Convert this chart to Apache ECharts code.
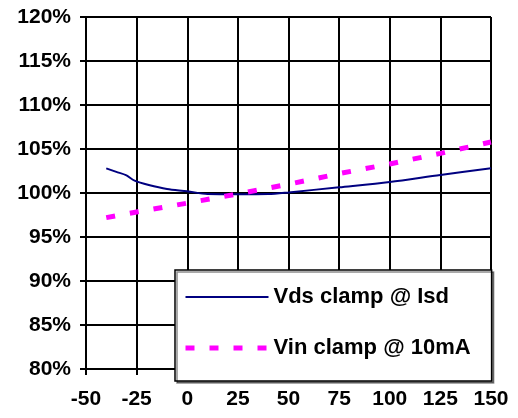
<!DOCTYPE html>
<html>
<head>
<meta charset="utf-8">
<script src="https://cdn.jsdelivr.net/npm/echarts@6/dist/echarts.min.js"></script>
<style>html,body{margin:0;padding:0;background:#fff;}#c{width:518px;height:418px;}</style>
</head>
<body>
<div id="c"></div>
<script>
var vdsName = 'Vds clamp @ Isd';
var vinName = 'Vin clamp @ 10mA';
var vdsTemp = [-40, -35, -30, -26, -19, -10, 0, 10, 25, 40, 50, 75, 100, 125, 150];
var vdsVal  = [102.8, 102.4, 102.0, 101.4, 100.9, 100.45, 100.2, 99.88, 99.85, 99.88, 100.07, 100.65, 101.25, 102.05, 102.8];
var vinTemp = [-40, -25, 0, 25, 50, 75, 100, 125, 150];
var vinVal  = [97.2, 97.85, 98.85, 99.9, 101.0, 102.2, 103.3, 104.5, 105.8];
var xMin = -50, xMax = 150, xStep = 25;
var yMin = 80, yMax = 120, yStep = 5;

function pairs(xs, ys) { return xs.map(function (x, i) { return [x, ys[i]]; }); }

var font = '"Liberation Sans", Arial, sans-serif';
var chart = echarts.init(document.getElementById('c'), null, { renderer: 'canvas' });
chart.setOption({
  animation: false,
  backgroundColor: '#fff',
  grid: { left: 86, top: 17, right: 27, bottom: 49, containLabel: false },
  xAxis: {
    type: 'value', min: xMin, max: xMax, interval: xStep,
    axisLine: { show: true, onZero: false, lineStyle: { color: '#000', width: 2 } },
    axisTick: { show: true, length: 6, lineStyle: { color: '#000', width: 2 } },
    axisLabel: { color: '#000', fontFamily: font, fontWeight: 'bold', fontSize: 21, margin: 20 },
    splitLine: { show: true, lineStyle: { color: '#000', width: 2 } }
  },
  yAxis: {
    type: 'value', min: yMin, max: yMax, interval: yStep,
    axisLine: { show: true, onZero: false, lineStyle: { color: '#000', width: 2 } },
    axisTick: { show: true, length: 6, lineStyle: { color: '#000', width: 2 } },
    axisLabel: { color: '#000', fontFamily: font, fontWeight: 'bold', fontSize: 21, margin: 15,
      formatter: function (v) { return v + '%'; } },
    splitLine: { show: true, lineStyle: { color: '#000', width: 2 } }
  },
  legend: {
    orient: 'vertical', left: 175, top: 270,
    itemWidth: 83, itemHeight: 14, itemGap: 29,
    padding: [16, 21, 22, 8],
    backgroundColor: '#fff', borderColor: '#000', borderWidth: 1.5,
    shadowColor: 'rgba(0,0,0,0.45)', shadowOffsetX: 2, shadowOffsetY: 2, shadowBlur: 0,
    itemStyle: { opacity: 0 },
    lineStyle: { width: 'inherit' },
    textStyle: { color: '#000', fontFamily: font, fontWeight: 'bold', fontSize: 22, lineHeight: 20 },
    data: [vdsName, vinName]
  },
  series: [
    { name: vdsName, type: 'line', symbol: 'none', smooth: 0.3, z: 3,
      lineStyle: { color: '#000080', width: 2 }, itemStyle: { color: '#000080' },
      data: pairs(vdsTemp, vdsVal) },
    { name: vinName, type: 'line', symbol: 'none', z: 4,
      lineStyle: { color: '#FF00FF', width: 5, type: [9, 15] }, itemStyle: { color: '#FF00FF' },
      data: pairs(vinTemp, vinVal) }
  ]
});
</script>
</body>
</html>
